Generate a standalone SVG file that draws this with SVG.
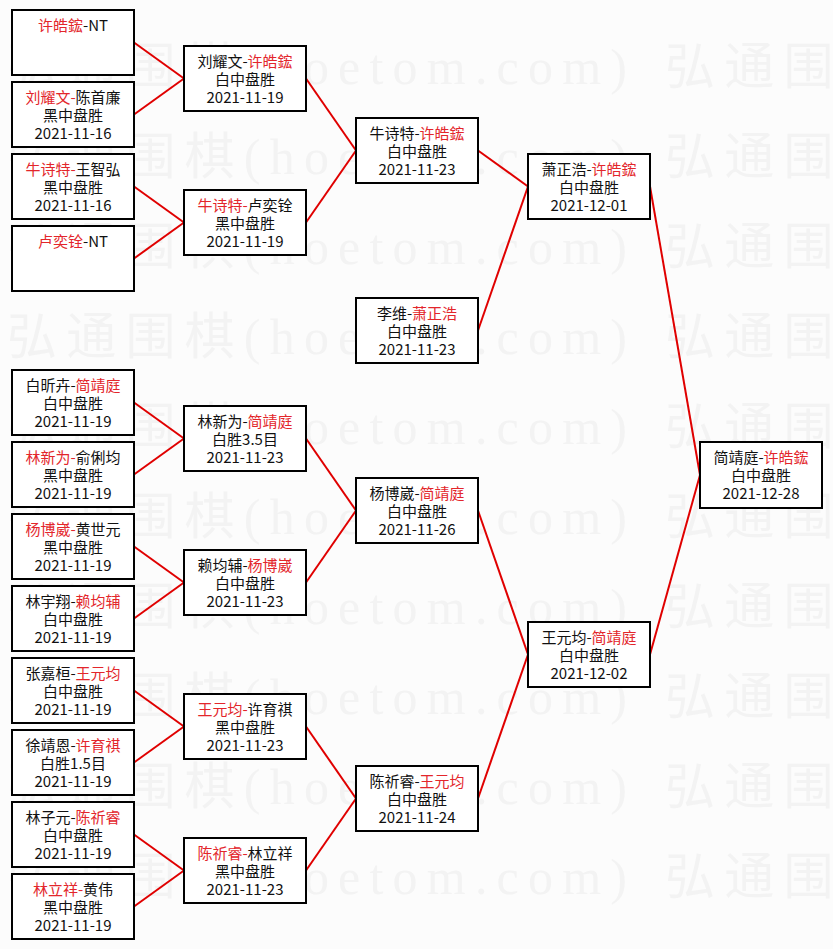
<svg xmlns="http://www.w3.org/2000/svg" width="833" height="949" viewBox="0 0 833 949">
<style>
.bg{fill:#fcfcfc}
.wm{font-family:"Liberation Serif","Noto Sans CJK SC",serif;font-size:50px;fill:#f3f3f3}
.box rect{fill:#fff;stroke:#000;stroke-width:2}
.box text{font-family:"Noto Sans CJK SC","Liberation Sans",sans-serif;font-size:15px;fill:#111;text-anchor:middle}
.r{fill:#e3262b}
#connectors line{stroke:#e00000;stroke-width:2}
</style>
<rect class="bg" x="0" y="0" width="833" height="949"/>
<g id="watermark">
<text class="wm" x="7" y="84" textLength="620" lengthAdjust="spacing">弘通围棋(hoetom.com)</text><text class="wm" x="665" y="84" textLength="620" lengthAdjust="spacing">弘通围棋(hoetom.com)</text>
<text class="wm" x="7" y="174" textLength="620" lengthAdjust="spacing">弘通围棋(hoetom.com)</text><text class="wm" x="665" y="174" textLength="620" lengthAdjust="spacing">弘通围棋(hoetom.com)</text>
<text class="wm" x="7" y="264" textLength="620" lengthAdjust="spacing">弘通围棋(hoetom.com)</text><text class="wm" x="665" y="264" textLength="620" lengthAdjust="spacing">弘通围棋(hoetom.com)</text>
<text class="wm" x="7" y="354" textLength="620" lengthAdjust="spacing">弘通围棋(hoetom.com)</text><text class="wm" x="665" y="354" textLength="620" lengthAdjust="spacing">弘通围棋(hoetom.com)</text>
<text class="wm" x="7" y="444" textLength="620" lengthAdjust="spacing">弘通围棋(hoetom.com)</text><text class="wm" x="665" y="444" textLength="620" lengthAdjust="spacing">弘通围棋(hoetom.com)</text>
<text class="wm" x="7" y="534" textLength="620" lengthAdjust="spacing">弘通围棋(hoetom.com)</text><text class="wm" x="665" y="534" textLength="620" lengthAdjust="spacing">弘通围棋(hoetom.com)</text>
<text class="wm" x="7" y="624" textLength="620" lengthAdjust="spacing">弘通围棋(hoetom.com)</text><text class="wm" x="665" y="624" textLength="620" lengthAdjust="spacing">弘通围棋(hoetom.com)</text>
<text class="wm" x="7" y="714" textLength="620" lengthAdjust="spacing">弘通围棋(hoetom.com)</text><text class="wm" x="665" y="714" textLength="620" lengthAdjust="spacing">弘通围棋(hoetom.com)</text>
<text class="wm" x="7" y="804" textLength="620" lengthAdjust="spacing">弘通围棋(hoetom.com)</text><text class="wm" x="665" y="804" textLength="620" lengthAdjust="spacing">弘通围棋(hoetom.com)</text>
<text class="wm" x="7" y="894" textLength="620" lengthAdjust="spacing">弘通围棋(hoetom.com)</text><text class="wm" x="665" y="894" textLength="620" lengthAdjust="spacing">弘通围棋(hoetom.com)</text>
</g>
<g id="connectors">
<line x1="134" y1="42.5" x2="184" y2="78.5"/><line x1="134" y1="114.5" x2="184" y2="78.5"/>
<line x1="134" y1="186.5" x2="184" y2="222.5"/><line x1="134" y1="258.5" x2="184" y2="222.5"/>
<line x1="134" y1="402.5" x2="184" y2="438.5"/><line x1="134" y1="474.5" x2="184" y2="438.5"/>
<line x1="134" y1="546.5" x2="184" y2="582.5"/><line x1="134" y1="618.5" x2="184" y2="582.5"/>
<line x1="134" y1="690.5" x2="184" y2="726.5"/><line x1="134" y1="762.5" x2="184" y2="726.5"/>
<line x1="134" y1="834.5" x2="184" y2="870.5"/><line x1="134" y1="906.5" x2="184" y2="870.5"/>
<line x1="306" y1="78.5" x2="356" y2="150.5"/><line x1="306" y1="222.5" x2="356" y2="150.5"/>
<line x1="306" y1="438.5" x2="356" y2="510.5"/><line x1="306" y1="582.5" x2="356" y2="510.5"/>
<line x1="306" y1="726.5" x2="356" y2="798.5"/><line x1="306" y1="870.5" x2="356" y2="798.5"/>
<line x1="478" y1="150.5" x2="528" y2="186.5"/><line x1="478" y1="330.5" x2="528" y2="186.5"/>
<line x1="478" y1="510.5" x2="528" y2="654.5"/><line x1="478" y1="798.5" x2="528" y2="654.5"/>
<line x1="650" y1="186.5" x2="700" y2="475"/><line x1="650" y1="654.5" x2="700" y2="475"/>
</g>
<g id="r1-1" class="box"><rect x="12" y="10" width="122" height="65"/><text x="73" y="31"><tspan class="r">许皓鋐</tspan>-NT</text></g>
<g id="r1-2" class="box"><rect x="12" y="82" width="122" height="65"/><text x="73" y="103"><tspan class="r">刘耀文-</tspan>陈首廉</text><text x="73" y="121">黑中盘胜</text><text x="73" y="139">2021-11-16</text></g>
<g id="r1-3" class="box"><rect x="12" y="154" width="122" height="65"/><text x="73" y="175"><tspan class="r">牛诗特-</tspan>王智弘</text><text x="73" y="193">黑中盘胜</text><text x="73" y="211">2021-11-16</text></g>
<g id="r1-4" class="box"><rect x="12" y="226" width="122" height="65"/><text x="73" y="247"><tspan class="r">卢奕铨</tspan>-NT</text></g>
<g id="r1-5" class="box"><rect x="12" y="370" width="122" height="65"/><text x="73" y="391">白昕卉-<tspan class="r">简靖庭</tspan></text><text x="73" y="409">白中盘胜</text><text x="73" y="427">2021-11-19</text></g>
<g id="r1-6" class="box"><rect x="12" y="442" width="122" height="65"/><text x="73" y="463"><tspan class="r">林新为-</tspan>俞俐均</text><text x="73" y="481">黑中盘胜</text><text x="73" y="499">2021-11-19</text></g>
<g id="r1-7" class="box"><rect x="12" y="514" width="122" height="65"/><text x="73" y="535"><tspan class="r">杨博崴-</tspan>黄世元</text><text x="73" y="553">黑中盘胜</text><text x="73" y="571">2021-11-19</text></g>
<g id="r1-8" class="box"><rect x="12" y="586" width="122" height="65"/><text x="73" y="607">林宇翔-<tspan class="r">赖均辅</tspan></text><text x="73" y="625">白中盘胜</text><text x="73" y="643">2021-11-19</text></g>
<g id="r1-9" class="box"><rect x="12" y="658" width="122" height="65"/><text x="73" y="679">张嘉桓-<tspan class="r">王元均</tspan></text><text x="73" y="697">白中盘胜</text><text x="73" y="715">2021-11-19</text></g>
<g id="r1-10" class="box"><rect x="12" y="730" width="122" height="65"/><text x="73" y="751">徐靖恩-<tspan class="r">许育祺</tspan></text><text x="73" y="769">白胜1.5目</text><text x="73" y="787">2021-11-19</text></g>
<g id="r1-11" class="box"><rect x="12" y="802" width="122" height="65"/><text x="73" y="823">林子元-<tspan class="r">陈祈睿</tspan></text><text x="73" y="841">白中盘胜</text><text x="73" y="859">2021-11-19</text></g>
<g id="r1-12" class="box"><rect x="12" y="874" width="122" height="65"/><text x="73" y="895"><tspan class="r">林立祥-</tspan>黄伟</text><text x="73" y="913">黑中盘胜</text><text x="73" y="931">2021-11-19</text></g>
<g id="r2-1" class="box"><rect x="184" y="46" width="122" height="65"/><text x="245" y="67">刘耀文-<tspan class="r">许皓鋐</tspan></text><text x="245" y="85">白中盘胜</text><text x="245" y="103">2021-11-19</text></g>
<g id="r2-2" class="box"><rect x="184" y="190" width="122" height="65"/><text x="245" y="211"><tspan class="r">牛诗特-</tspan>卢奕铨</text><text x="245" y="229">黑中盘胜</text><text x="245" y="247">2021-11-19</text></g>
<g id="r2-3" class="box"><rect x="184" y="406" width="122" height="65"/><text x="245" y="427">林新为-<tspan class="r">简靖庭</tspan></text><text x="245" y="445">白胜3.5目</text><text x="245" y="463">2021-11-23</text></g>
<g id="r2-4" class="box"><rect x="184" y="550" width="122" height="65"/><text x="245" y="571">赖均辅-<tspan class="r">杨博崴</tspan></text><text x="245" y="589">白中盘胜</text><text x="245" y="607">2021-11-23</text></g>
<g id="r2-5" class="box"><rect x="184" y="694" width="122" height="65"/><text x="245" y="715"><tspan class="r">王元均-</tspan>许育祺</text><text x="245" y="733">黑中盘胜</text><text x="245" y="751">2021-11-23</text></g>
<g id="r2-6" class="box"><rect x="184" y="838" width="122" height="65"/><text x="245" y="859"><tspan class="r">陈祈睿-</tspan>林立祥</text><text x="245" y="877">黑中盘胜</text><text x="245" y="895">2021-11-23</text></g>
<g id="r3-1" class="box"><rect x="356" y="118" width="122" height="65"/><text x="417" y="139">牛诗特-<tspan class="r">许皓鋐</tspan></text><text x="417" y="157">白中盘胜</text><text x="417" y="175">2021-11-23</text></g>
<g id="r3-2" class="box"><rect x="356" y="298" width="122" height="65"/><text x="417" y="319">李维-<tspan class="r">萧正浩</tspan></text><text x="417" y="337">白中盘胜</text><text x="417" y="355">2021-11-23</text></g>
<g id="r3-3" class="box"><rect x="356" y="478" width="122" height="65"/><text x="417" y="499">杨博崴-<tspan class="r">简靖庭</tspan></text><text x="417" y="517">白中盘胜</text><text x="417" y="535">2021-11-26</text></g>
<g id="r3-4" class="box"><rect x="356" y="766" width="122" height="65"/><text x="417" y="787">陈祈睿-<tspan class="r">王元均</tspan></text><text x="417" y="805">白中盘胜</text><text x="417" y="823">2021-11-24</text></g>
<g id="r4-1" class="box"><rect x="528" y="154" width="122" height="65"/><text x="589" y="175">萧正浩-<tspan class="r">许皓鋐</tspan></text><text x="589" y="193">白中盘胜</text><text x="589" y="211">2021-12-01</text></g>
<g id="r4-2" class="box"><rect x="528" y="622" width="122" height="65"/><text x="589" y="643">王元均-<tspan class="r">简靖庭</tspan></text><text x="589" y="661">白中盘胜</text><text x="589" y="679">2021-12-02</text></g>
<g id="final" class="box"><rect x="700" y="442" width="122" height="66"/><text x="761" y="463">简靖庭-<tspan class="r">许皓鋐</tspan></text><text x="761" y="481">白中盘胜</text><text x="761" y="499">2021-12-28</text></g>
</svg>
